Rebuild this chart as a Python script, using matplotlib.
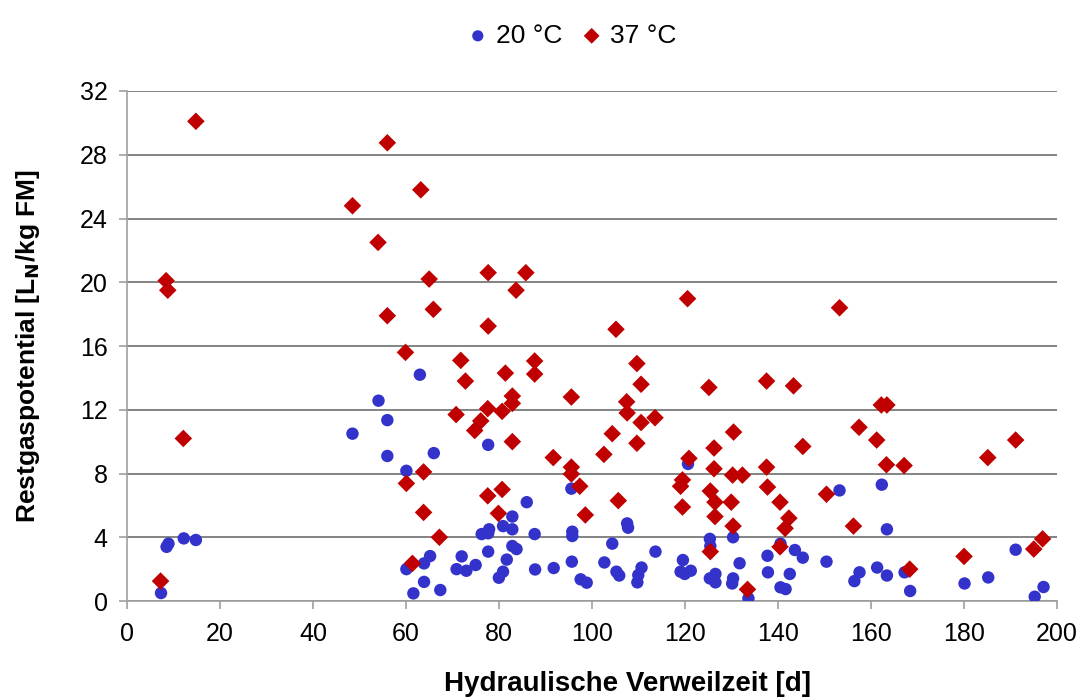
import numpy as np
import matplotlib
matplotlib.use('Agg')
import matplotlib.pyplot as plt

plt.rcParams['font.family'] = ['Liberation Sans', 'DejaVu Sans']

# 20 °C series (hydraulic retention time [d], residual gas potential)
x20 = [7.3, 8.5, 8.9, 12.2, 14.8,
       48.5, 54.1, 56, 56, 60.1, 60.1, 61.6, 63, 63.9, 63.9, 65.2, 66, 67.4,
       70.9, 72, 73, 75, 76.3, 77.7, 77.9, 77.7, 77.7, 80, 80.9, 80.9, 81.7,
       82.9, 82.9, 82.9, 83.8, 86, 87.7, 87.8, 91.8, 95.6, 95.8, 95.8, 95.7,
       97.6, 98.9, 102.7, 104.4, 105.3, 105.9, 107.6, 107.8, 109.8, 110,
       110.7, 113.7, 119.1, 119.6, 120, 121.3, 120.7, 125.4, 125.5, 125.4,
       126.6, 126.6, 130.4, 130.4, 130.2, 131.8, 133.7, 137.8, 137.9, 140.6,
       140.6, 141.7, 142.6, 143.7, 145.4, 150.5, 153.3, 156.5, 157.6, 161.4,
       162.4, 163.5, 163.5, 167.3, 168.5, 180.2, 185.3, 191.2, 195.3, 197.2]
y20 = [0.5, 3.4, 3.6, 3.93, 3.83,
       10.5, 12.57, 11.35, 9.1, 8.17, 2.0, 0.48, 14.2, 2.36, 1.2, 2.82, 9.28, 0.69,
       2.0, 2.8, 1.9, 2.26, 4.2, 4.25, 4.5, 9.8, 3.1, 1.46, 1.84, 4.7, 2.6,
       5.3, 4.5, 3.45, 3.26, 6.2, 4.2, 1.98, 2.07, 7.05, 4.35, 4.08, 2.47,
       1.36, 1.15, 2.42, 3.6, 1.84, 1.6, 4.87, 4.6, 1.17, 1.63,
       2.1, 3.1, 1.84, 2.57, 1.7, 1.9, 8.6, 3.9, 3.45, 1.42,
       1.7, 1.17, 4.0, 1.42, 1.1, 2.37, 0.17, 2.84, 1.8, 3.6,
       0.86, 0.75, 1.7, 3.2, 2.72, 2.47, 6.94, 1.25, 1.8, 2.1,
       7.3, 4.5, 1.6, 1.8, 0.63, 1.1, 1.48, 3.22, 0.27, 0.88]

# 37 °C series
x37 = [7.2, 8.4, 8.75, 12.1, 14.8, 48.5, 54, 56, 56, 59.9, 60.1, 61.4, 63.2,
       63.8, 63.8, 65, 65.9, 67.2, 70.8, 71.8, 72.8, 74.8, 76.1, 77.7, 77.7,
       77.6, 77.6, 79.9, 80.7, 80.7, 81.4, 82.9, 82.9, 82.9, 83.7, 85.8, 87.7,
       87.7, 91.7, 95.6, 95.6, 95.6, 97.4, 98.6, 102.6, 104.4, 105.2, 105.7,
       107.5, 107.6, 109.7, 110.6, 110.6, 109.7, 113.6, 119.5, 119.1, 119.5,
       120.6, 120.9, 125.2, 125.5, 125.5, 126.3, 126.3, 126.5, 126.5, 130.5,
       130.3, 132.4, 130, 130.4, 133.5, 137.6, 137.6, 137.8, 140.5, 140.5,
       141.6, 142.4, 143.4, 145.4, 150.5, 153.3, 156.3, 157.5, 161.3, 162.3,
       163.5, 163.4, 167.2, 168.4, 180.1, 185.2, 191.2, 195.1, 197]
y37 = [1.25, 20.1, 19.5, 10.2, 30.1, 24.8, 22.5, 28.75, 17.9, 15.6, 7.38, 2.36, 25.8,
       8.1, 5.56, 20.2, 18.3, 4.0, 11.7, 15.1, 13.8, 10.7, 11.3, 20.6, 17.25,
       12.07, 6.6, 5.5, 7.0, 11.9, 14.3, 12.86, 12.4, 10.0, 19.5, 20.6, 15.06,
       14.24, 9.0, 12.8, 8.4, 7.97, 7.2, 5.4, 9.2, 10.5, 17.05, 6.3,
       12.5, 11.8, 14.9, 13.6, 11.2, 9.9, 11.5, 7.6, 7.2, 5.9,
       18.97, 8.95, 13.4, 6.9, 3.1, 9.6, 8.3, 6.2, 5.3, 10.6,
       7.9, 7.9, 6.2, 4.7, 0.73, 13.8, 8.4, 7.15, 6.2, 3.4,
       4.56, 5.2, 13.5, 9.7, 6.7, 18.4, 4.7, 10.9, 10.1, 12.3,
       12.3, 8.55, 8.5, 2.0, 2.8, 9.0, 10.1, 3.26, 3.9]

fig = plt.figure(figsize=(10.77, 7.0), dpi=100)
ax = fig.add_axes([0.118, 0.1414, 0.863, 0.7286])

ax.scatter(x20, y20, s=80, marker='o', color='#3333CC', edgecolors='none', label='20 °C', zorder=3)
ax.scatter(x37, y37, s=80, marker='D', color='#C00000', edgecolors='none', label='37 °C', zorder=3)

ax.set_xlim(0, 200)
ax.set_ylim(0, 32)
ax.set_xticks(np.arange(0, 201, 20))
ax.set_yticks(np.arange(0, 33, 4))
ax.yaxis.grid(True, color='#6e6e6e', linewidth=1.2)
ax.set_axisbelow(True)
for s in ['top', 'right']:
    ax.spines[s].set_visible(False)
for s in ['left', 'bottom']:
    ax.spines[s].set_color('#a0a0a0')
    ax.spines[s].set_linewidth(1.2)
ax.tick_params(axis='both', labelsize=18, colors='#a0a0a0', labelcolor='black', length=6, width=1.2)
ax.tick_params(axis='x', pad=9)
ax.tick_params(axis='y', pad=8)

ax.set_xlabel('Hydraulische Verweilzeit [d]', fontsize=20, fontweight='bold')
ax.xaxis.set_label_coords(0.538, -0.137)
ax.set_ylabel('Restgaspotential [L$_\\mathbf{N}$/kg FM]', fontsize=19, fontweight='bold', labelpad=27)

fig.legend(loc='upper center', bbox_to_anchor=(0.531, 1.0), ncol=2, frameon=False,
           fontsize=19, handlelength=0.8, handletextpad=0.3, columnspacing=0.7, markerscale=0.9)

fig.savefig('out.png', dpi=100)
